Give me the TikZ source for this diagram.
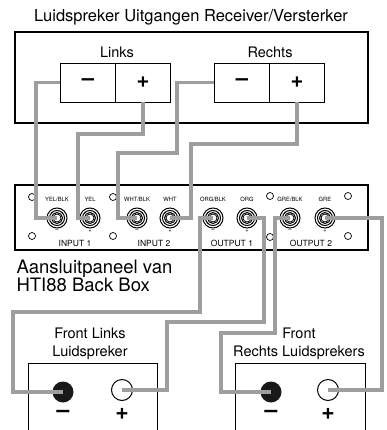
\documentclass[tikz,border=0pt]{standalone}
\usepackage{fontspec}
\setmainfont{TeX Gyre Heros}
\usepackage{tikz}

\begin{document}
\begin{tikzpicture}[x=1pt,y=-1pt,
    wire/.style={line width=3.5pt,color=black!38},
    term/.style={draw,rectangle,minimum width=55pt,minimum height=39pt,inner sep=0pt,font=\fontsize{22}{22}\selectfont\bfseries},
    jack/.style={circle,draw,fill=white,line width=0.8pt,minimum size=8pt,inner sep=0pt},
    hole/.style={circle,draw,line width=0.7pt,minimum size=7pt,inner sep=0pt},
    tiny/.style={font=\fontsize{5.8}{6}\selectfont},
    small/.style={font=\fontsize{8.5}{9}\selectfont},
    lbl/.style={font=\fontsize{14.5}{18}\selectfont,align=center},
    sign/.style={font=\fontsize{23}{23}\selectfont\bfseries}]
    \useasboundingbox (0,0) rectangle (386,430);
    % receiver
    \node at (191,17) [font=\fontsize{16.5}{20}\selectfont] (title) {Luidspreker Uitgangen Receiver/Versterker};
    \draw[line width=1.2pt] (15,32) rectangle (368,123);
    \node at (117,52) [lbl] (links) {Links};
    \node at (270,52) [lbl] (rechts) {Rechts};
    \node at (88,82.5) [term] (lminus) {–};
    \node at (143,82.5) [term] (lplus) {+};
    \node at (242,82.5) [term] (rminus) {–};
    \node at (297,82.5) [term] (rplus) {+};
    % back box panel
    \draw[line width=2.2pt] (15,185) rectangle (368,250);
    \foreach \x/\y/\n in {32/197/h1,32/236/h2,113/197/h3,113/236/h4,270/196/h5,270/237/h6,348/196/h7,348/236/h8}
        \node at (\x,\y) [hole] (\n) {};
    \foreach \x/\n/\t/\s in {57/ylb/YEL\slash BLK/--,90/yl/YEL/+,137/wb/WHT\slash BLK/--,170/wh/WHT/+,213/ob/ORG\slash BLK/--,247/og/ORG/+,290/gb/GRE\slash BLK/--,325/gr/GRE/+} {
        \foreach \r in {10,7.5,5.5} \draw[line width=1pt] (\x,218) circle (\r);
        \node at (\x,218) [jack] (\n) {};
        \node at (\x,199) [tiny] (\n-t) {\t};
        \node at (\x,231) [tiny] (\n-s) {\s};
    }
    \node at (75,243) [small] (in1) {INPUT 1};
    \node at (154,243) [small] (in2) {INPUT 2};
    \node at (232,243) [small] (out1) {OUTPUT 1};
    \node at (311,243) [small] (out2) {OUTPUT 2};
    \node at (13,276) [anchor=west,font=\fontsize{18.5}{18.5}\selectfont,align=left] (panel) {Aansluitpaneel van\\HTI88 Back Box};
    % speakers
    \node at (90,344) [lbl] (fl) {Front Links\\Luidspreker};
    \node at (299,344) [lbl] (fr) {Front\\Rechts Luidsprekers};
    \draw[line width=1pt] (28,432) |- (157,363) -- (157,432);
    \draw[line width=1pt] (235,432) |- (365,363) -- (365,432);
    \node at (63,392) [circle,fill=black!90,minimum size=21pt,inner sep=0pt] (flm) {};
    \node at (122,390) [circle,draw,line width=1pt,minimum size=21pt,inner sep=0pt] (flp) {};
    \node at (271,392) [circle,fill=black!90,minimum size=21pt,inner sep=0pt] (frm) {};
    \node at (328,390) [circle,draw,line width=1pt,minimum size=21pt,inner sep=0pt] (frp) {};
    \node at (63,414) [sign] (flm-s) {–};
    \node at (122,414) [sign] (flp-s) {+};
    \node at (271,414) [sign] (frm-s) {–};
    \node at (328,414) [sign] (frp-s) {+};
    % wires
    \draw[wire] (lminus.west) -| (36,218) -- (ylb.center);
    \draw[wire] (lplus.south) |- (78,134) -- (78,218) -- (yl.center);
    \draw[wire] (rminus.west) -| (177,153) -| (118,218) -- (wb.center);
    \draw[wire] (rplus.south) |- (191,144) -- (191,218) -- (wh.center);
    \draw[wire] (ob.center) -| (200,312) -| (13,392) -- (flm.center);
    \draw[wire] (og.center) -| (264,322) -| (167,390) -- (flp.center);
    \draw[wire] (gb.center) -| (275,333) -| (221,392) -- (frm.center);
    \draw[wire] (gr.center) -| (382,390) -- (frp.center);
\end{tikzpicture}
\end{document}
